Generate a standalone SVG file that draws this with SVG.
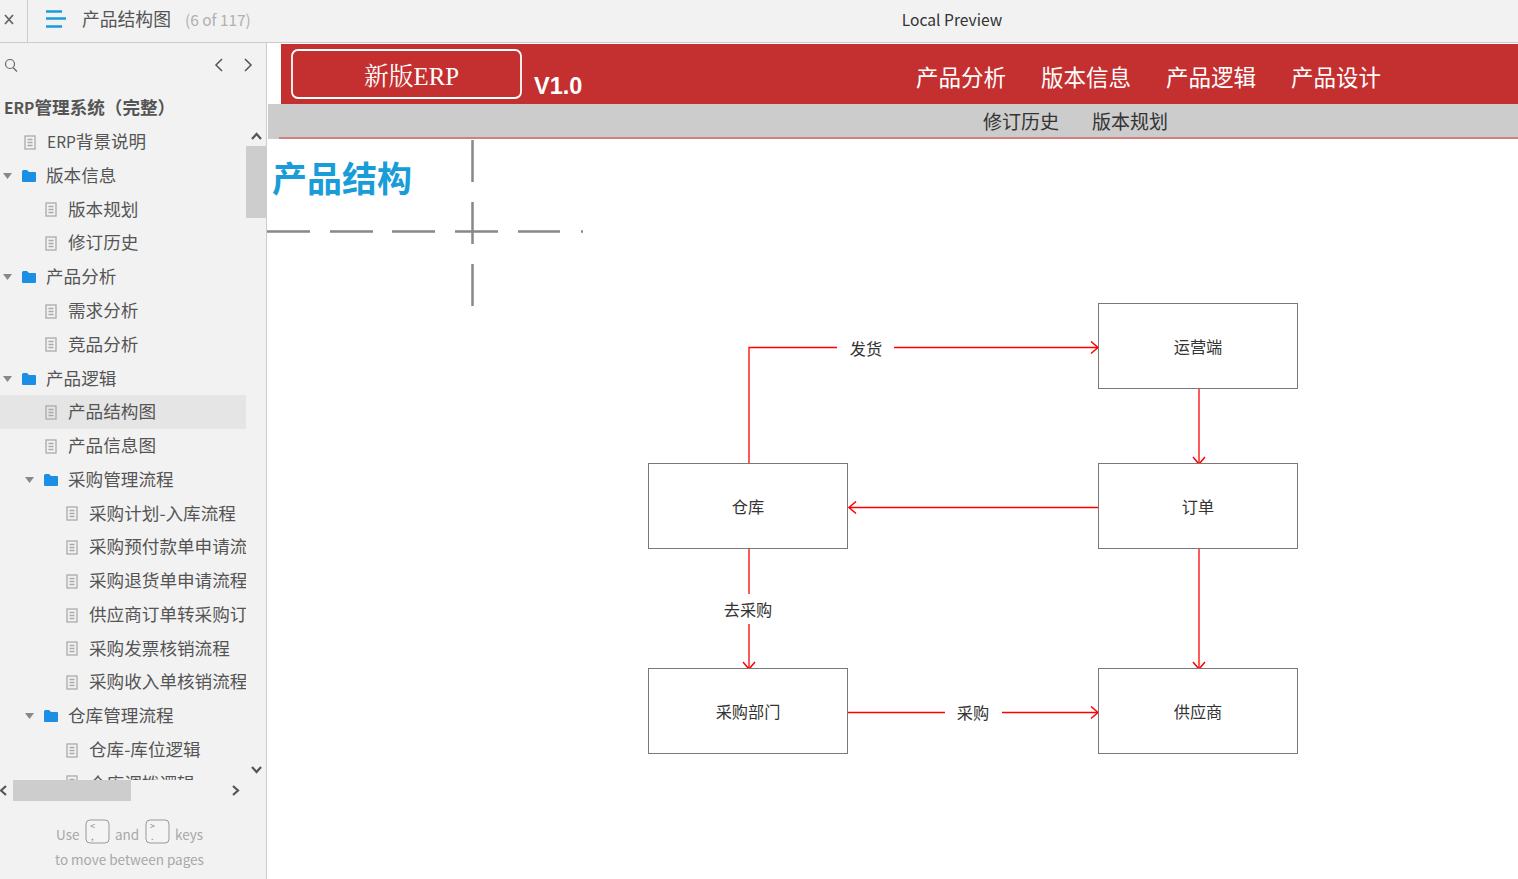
<svg xmlns="http://www.w3.org/2000/svg" width="1518" height="879" viewBox="0 0 1518 879">
<style>
text{font-family:"Noto Sans CJK SC","Noto Sans",sans-serif;white-space:pre}
.t{font-size:17.6px;fill:#555}
.d{fill:none;stroke:#aaa;stroke-width:1.3}
.f{fill:#1a8fe3}
.a{fill:#888}
.n{fill:#fff;stroke:#797979;stroke-width:1}
.l{font-size:16.2px;fill:#333;text-anchor:middle}
.c{fill:none;stroke:#f00;stroke-width:1.300}
.nav{font-size:22.5px;fill:#fff;text-anchor:middle}
.sub{font-size:19px;fill:#333;text-anchor:middle}
.g{fill:none;stroke:#888;stroke-width:2.5}
.h{font-size:13.5px;fill:#a8a8a8}
.k{fill:#f4f4f4;stroke:#999;stroke-width:1}
.ar{fill:none;stroke:#555;stroke-width:2.200}
</style>
<defs>
<marker id="ah" markerUnits="userSpaceOnUse" markerWidth="16" markerHeight="14" refX="10" refY="7" orient="auto"><path d="M3 1 L10 7 L3 13" fill="none" stroke="#f00" stroke-width="1.500"/></marker>
<g id="doc"><rect x="0" y="0" width="10" height="13" class="d" fill="none"/><path d="M2.500 3.500H7.500M2.500 6.500H7.500M2.500 9.500H7.500" class="d"/></g>
<path id="folder" d="M0 2.500Q0 1 1.500 1H5L7 3H13Q14 3 14 4V12Q14 13 13 13H1Q0 13 0 12Z"/>
<path id="tri" d="M0 0H9L4.500 6Z"/>
</defs>
<rect width="1518" height="879" fill="#fff"/>
<rect id="topbar" width="1518" height="42" fill="#f2f2f2"/>
<path d="M0 42.500H1518" stroke="#ccc"/>
<path d="M27.500 0V42" stroke="#ccc"/>
<path d="M5 15L13 24M13 15L5 24" stroke="#666" stroke-width="1.800"/>
<path d="M46 11.500H62M46 18.500H66M46 26.500H62" stroke="#1a9cdc" stroke-width="2.500"/>
<text x="82" y="26" font-size="17.800" fill="#555">产品结构图</text>
<text x="185" y="26" font-size="15.400" fill="#b0b0b0">(6 of 117)</text>
<text x="952" y="26" font-size="15.600" fill="#333" text-anchor="middle">Local Preview</text>
<rect id="sidebar" y="43" width="266" height="836" fill="#f2f2f2"/>
<path d="M266.500 43V879" stroke="#ccc"/>
<circle cx="10" cy="64" r="4.500" fill="none" stroke="#666" stroke-width="1.200"/><path d="M13 67.500L17 71.500" stroke="#666" stroke-width="1.200"/>
<path d="M222 59L216 65L222 71M245 59L251 65L245 71" fill="none" stroke="#555" stroke-width="1.500"/>
<text x="4" y="114" font-size="17.600" font-weight="700" fill="#555"><tspan font-size="15.500">ERP</tspan>管理系统（完整）</text>
<rect y="395" width="246" height="34" fill="#e5e5e5"/>
<g id="tree" class="t">
<use href="#doc" x="25" y="136"/><text class="t" x="47" y="148"><tspan font-size="15.500">ERP</tspan>背景说明</text>
<use href="#tri" class="a" x="3" y="173"/><use href="#folder" class="f" x="22" y="169"/><text class="t" x="46" y="182">版本信息</text>
<use href="#doc" x="46" y="203"/><text class="t" x="68" y="216">版本规划</text>
<use href="#doc" x="46" y="237"/><text class="t" x="68" y="249">修订历史</text>
<use href="#tri" class="a" x="3" y="274"/><use href="#folder" class="f" x="22" y="270"/><text class="t" x="46" y="283">产品分析</text>
<use href="#doc" x="46" y="305"/><text class="t" x="68" y="317">需求分析</text>
<use href="#doc" x="46" y="338"/><text class="t" x="68" y="351">竞品分析</text>
<use href="#tri" class="a" x="3" y="376"/><use href="#folder" class="f" x="22" y="372"/><text class="t" x="46" y="385">产品逻辑</text>
<use href="#doc" x="46" y="406"/><text class="t" x="68" y="418">产品结构图</text>
<use href="#doc" x="46" y="440"/><text class="t" x="68" y="452">产品信息图</text>
<use href="#tri" class="a" x="25" y="477"/><use href="#folder" class="f" x="44" y="473"/><text class="t" x="68" y="486">采购管理流程</text>
<svg x="0" y="490" width="246" height="290" viewBox="0 490 246 290">
<use href="#doc" x="67" y="507"/><text class="t" x="89" y="520">采购计划-入库流程</text>
<use href="#doc" x="67" y="541"/><text class="t" x="89" y="553">采购预付款单申请流程</text>
<use href="#doc" x="67" y="575"/><text class="t" x="89" y="587">采购退货单申请流程</text>
<use href="#doc" x="67" y="609"/><text class="t" x="89" y="621">供应商订单转采购订单</text>
<use href="#doc" x="67" y="642"/><text class="t" x="89" y="655">采购发票核销流程</text>
<use href="#doc" x="67" y="676"/><text class="t" x="89" y="688">采购收入单核销流程</text>
<use href="#tri" class="a" x="25" y="713"/><use href="#folder" class="f" x="44" y="709"/><text class="t" x="68" y="722">仓库管理流程</text>
<use href="#doc" x="67" y="744"/><text class="t" x="89" y="756">仓库-库位逻辑</text>
<use href="#doc" x="67" y="776"/><text class="t" x="89" y="790">仓库调拨逻辑</text>
</svg>
</g>
<rect x="246" y="126" width="20" height="654" fill="#f2f2f2"/>
<rect x="246" y="146" width="20" height="72" fill="#cdcdcd"/>
<path d="M252 139L256.500 134L261 139M252 767L256.500 772L261 767" class="ar"/>
<rect y="780" width="266" height="21" fill="#f2f2f2"/>
<rect x="13" y="780" width="118" height="21" fill="#cdcdcd"/>
<path d="M6 786L1 790.500L6 795M233 786L238 790.500L233 795" class="ar"/>
<text class="h" x="56" y="840">Use</text>
<rect class="k" x="86" y="820" width="23" height="23" rx="4"/>
<text x="90" y="829" font-size="9" fill="#888">&lt;</text><text x="91" y="840" font-size="9" fill="#888">,</text>
<text class="h" x="115" y="840">and</text>
<rect class="k" x="146" y="820" width="23" height="23" rx="4"/>
<text x="150" y="829" font-size="9" fill="#888">&gt;</text><text x="151" y="840" font-size="9" fill="#888">.</text>
<text class="h" x="175" y="840">keys</text>
<text class="h" x="55" y="865">to move between pages</text>
<rect id="header" x="281" y="44" width="1237" height="60" fill="#c43030"/>
<rect x="292" y="50" width="229" height="48" rx="6" fill="#c43030" stroke="#fff" stroke-width="1.800"/>
<text x="411.500" y="85" font-size="24.800" fill="#fff" text-anchor="middle" style="font-family:'Liberation Serif','Noto Serif CJK SC','Noto Sans CJK SC',serif">新版ERP</text>
<text x="534" y="94" font-size="23.500" font-weight="700" fill="#fff" style="font-family:'Liberation Sans',sans-serif">V1.0</text>
<text class="nav" x="961" y="86">产品分析</text>
<text class="nav" x="1086" y="86">版本信息</text>
<text class="nav" x="1211" y="86">产品逻辑</text>
<text class="nav" x="1336" y="86">产品设计</text>
<rect id="subnav" x="268" y="104" width="1250" height="35" fill="#ccc"/>
<rect x="279" y="137" width="1239" height="2" fill="#d08080"/>
<text class="sub" x="1021" y="129">修订历史</text>
<text class="sub" x="1130" y="129">版本规划</text>
<text x="272" y="192" font-size="35" font-weight="700" fill="#1a9cd8">产品结构</text>
<g id="crosshair">
<path class="g" d="M472.500 140V182M472.500 202V244M472.500 264V306"/>
<path class="g" d="M267 231.500H310M330 231.500H373M392 231.500H435M455 231.500H498M518 231.500H560M581 231.500H583"/>
</g>
<g id="connectors">
<path class="c" d="M749 463V347.500H837"/>
<path class="c" d="M894 347.500H1098" marker-end="url(#ah)"/>
<path class="c" d="M1199 389V464" marker-end="url(#ah)"/>
<path class="c" d="M1099 507.500H849" marker-end="url(#ah)"/>
<path class="c" d="M749 549V594"/>
<path class="c" d="M749 624V669" marker-end="url(#ah)"/>
<path class="c" d="M1199 549V669" marker-end="url(#ah)"/>
<path class="c" d="M848 712.500H945"/>
<path class="c" d="M1002 712.500H1098" marker-end="url(#ah)"/>
<text class="l" x="866" y="355">发货</text>
<text class="l" x="748" y="616">去采购</text>
<text class="l" x="973" y="719">采购</text>
</g>
<g id="node-yunying"><rect class="n" x="1098.500" y="303.500" width="199" height="85"/><text class="l" x="1198" y="353">运营端</text></g>
<g id="node-cangku"><rect class="n" x="648.500" y="463.500" width="199" height="85"/><text class="l" x="748" y="513">仓库</text></g>
<g id="node-dingdan"><rect class="n" x="1098.500" y="463.500" width="199" height="85"/><text class="l" x="1198" y="513">订单</text></g>
<g id="node-caigou"><rect class="n" x="648.500" y="668.500" width="199" height="85"/><text class="l" x="748" y="718">采购部门</text></g>
<g id="node-gongying"><rect class="n" x="1098.500" y="668.500" width="199" height="85"/><text class="l" x="1198" y="718">供应商</text></g>
</svg>
